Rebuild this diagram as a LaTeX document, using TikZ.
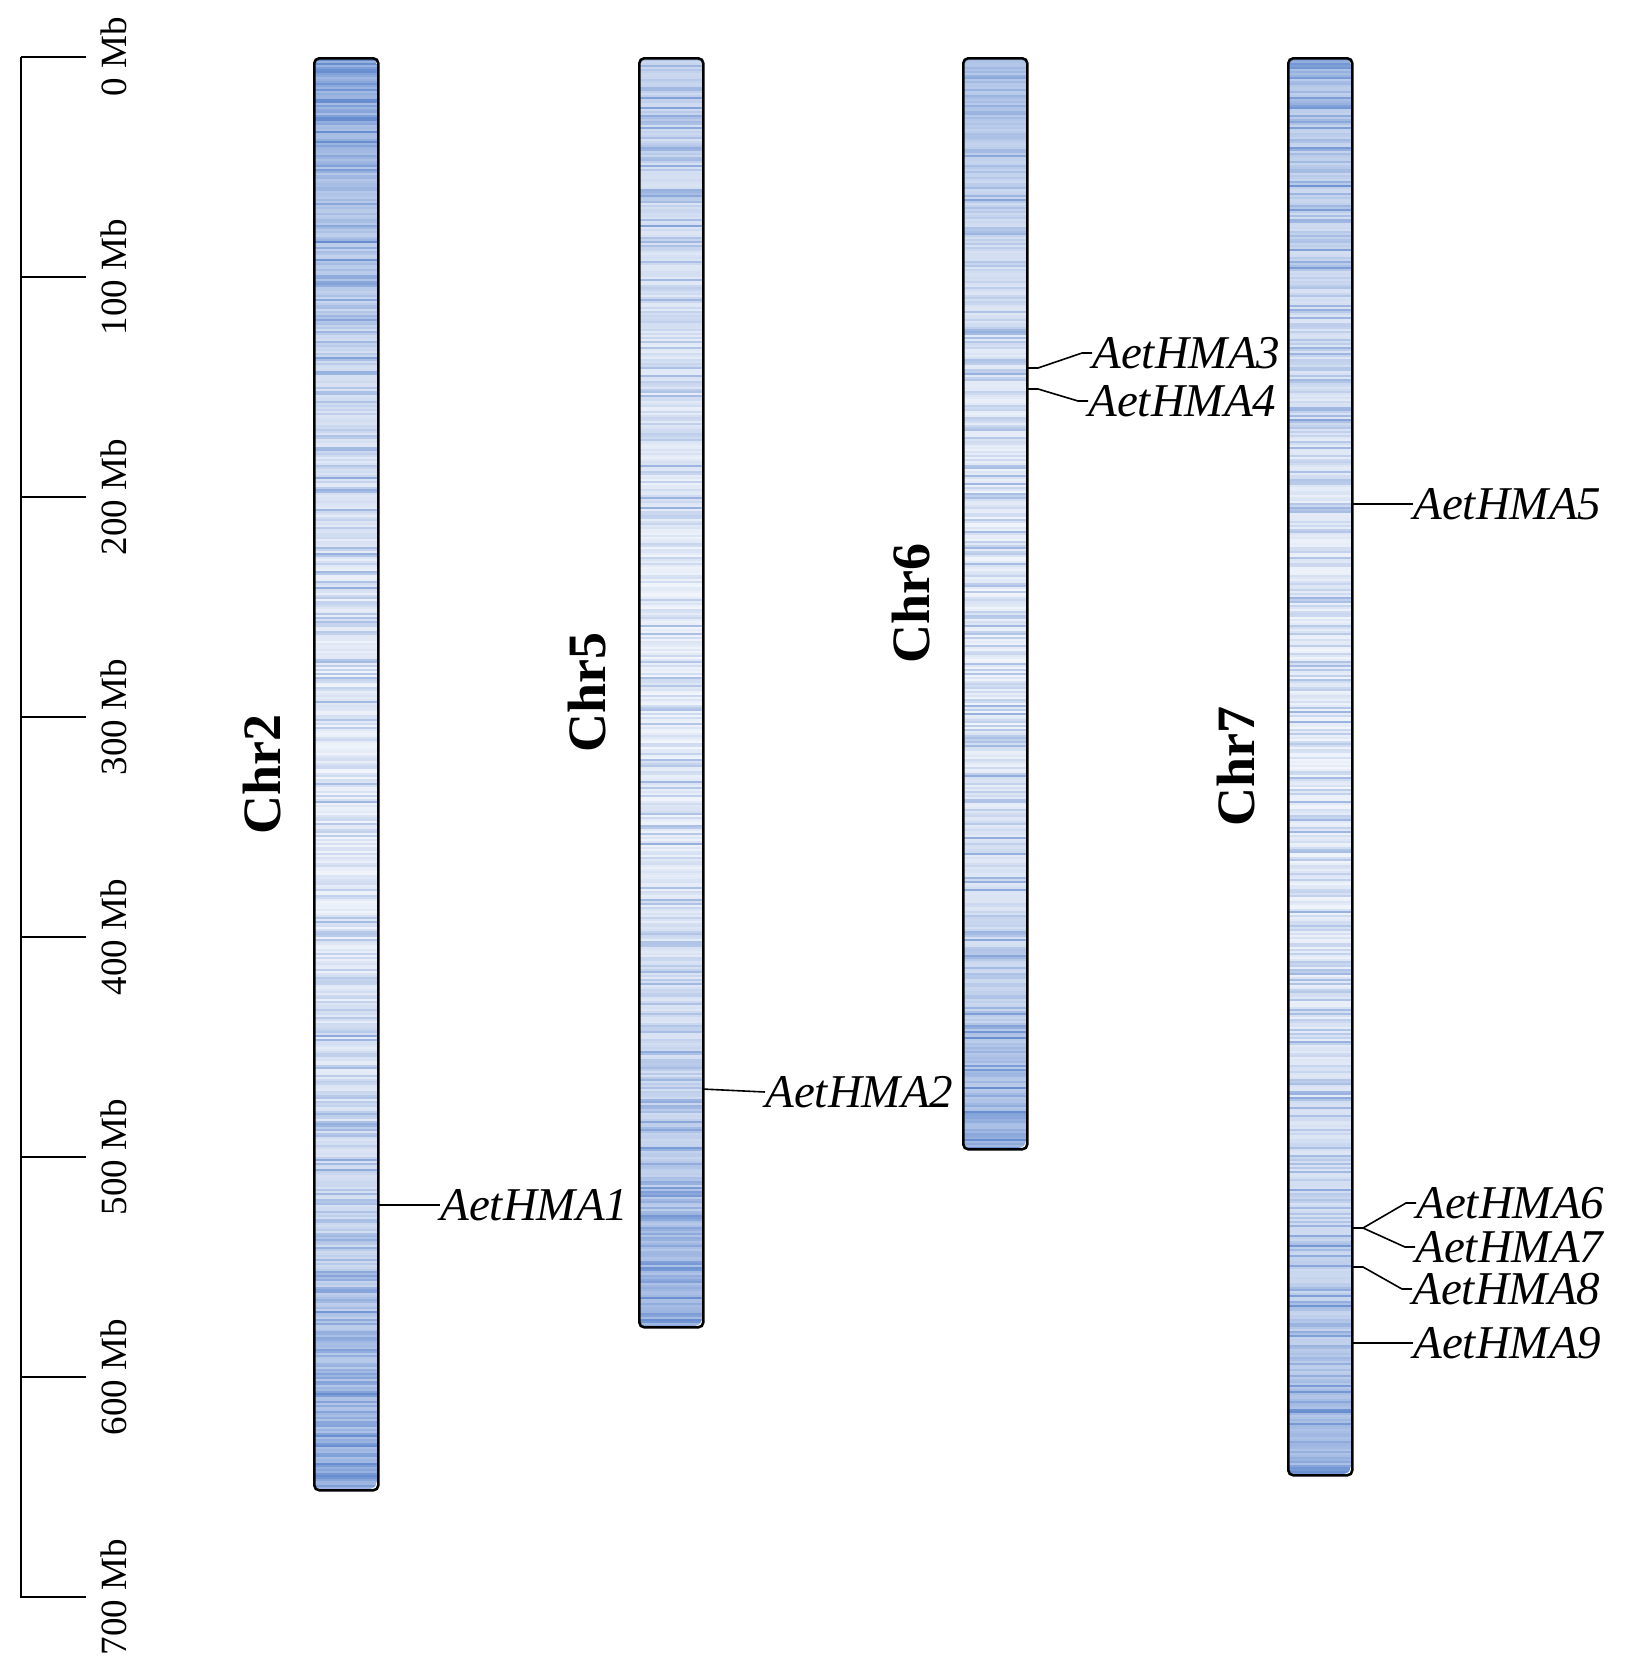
\documentclass[tikz,border=0pt]{standalone}
\usepackage{fontspec}
\setmainfont{Liberation Serif}
\usetikzlibrary{calc,positioning}
\definecolor{band}{RGB}{96,136,206}

% #1 name, #2 left x, #3 bottom y, #4 top density, #5 bottom density, #6 seed
\newcommand{\chrom}[6]{%
  \begin{scope}
    \clip[rounded corners=4] (#2,57) rectangle ++(64,#3-57);
    \fill[band!12!white] (#2,57) rectangle ++(64,#3-57);
    \pgfmathsetseed{#6}
    \foreach \y in {57,59,...,#3} {
      \pgfmathsetmacro{\tpos}{(\y-57)/(#3-57)}
      \pgfmathsetmacro{\shd}{min(95,100*(0.08+ifthenelse(\tpos<0.5,#4,#5)*(2*\tpos-1)*(2*\tpos-1)+0.6*rnd*rnd))}
      \fill[band!\shd!white] (#2,\y) rectangle ++(64,2);
    }
  \end{scope}
  \node[chr, minimum height={(#3-57)*0.5pt}, anchor=north west] (#1) at (#2,57) {};}

\begin{document}
\begin{tikzpicture}[x=0.5pt, y=-0.5pt,
  chr/.style={draw, line width=1.3pt, rounded corners=2.5pt, minimum width=32pt, inner sep=0pt},
  chrlab/.style={rotate=90, inner sep=0pt, font=\fontsize{27}{27}\selectfont\bfseries},
  mb/.style={rotate=90, inner sep=0pt, font=\fontsize{18.5}{18.5}\selectfont},
  gene/.style={anchor=west, inner sep=0pt, font=\fontsize{23.5}{23.5}\selectfont\itshape},
  axis/.style={line width=1pt},
  link/.style={line width=0.8pt}]
  \useasboundingbox (0,0) rectangle (1631,1672);

  % scale
  \draw[axis] (21,57) -- (21,1598);
  \foreach \m in {0,100,...,700} {
    \draw[axis] (21,57+2.2*\m) -- (86,57+2.2*\m);
    \node[mb] (mb\m) at (114,57+2.2*\m) {\m\ Mb};
  }

  % chromosomes
  \chrom{chr2}{313}{1489}{0.55}{0.5}{21}
  \chrom{chr5}{638}{1326}{0.25}{0.5}{52}
  \chrom{chr6}{962}{1148}{0.4}{0.45}{63}
  \chrom{chr7}{1287}{1474}{0.35}{0.45}{74}

  \node[chrlab] (lab2) at ($(chr2.west)+(-51,0)$) {Chr2};
  \node[chrlab] (lab5) at ($(chr5.west)+(-51,0)$) {Chr5};
  \node[chrlab] (lab6) at ($(chr6.west)+(-51,0)$) {Chr6};
  \node[chrlab] (lab7) at ($(chr7.west)+(-51,0)$) {Chr7};

  % genes
  \coordinate (g1) at (377,1205);
  \coordinate (g2) at (702,1089);
  \coordinate (g3) at (1026,368);
  \coordinate (g4) at (1026,389);
  \coordinate (g5) at (1351,504);
  \coordinate (g6) at (1351,1228);
  \coordinate (g8) at (1351,1267);
  \coordinate (g9) at (1351,1343);

  \node[gene] (hma1) at (440,1205) {AetHMA1};
  \node[gene] (hma2) at (765,1092) {AetHMA2};
  \node[gene] (hma3) at (1092,353) {AetHMA3};
  \node[gene] (hma4) at (1088,401) {AetHMA4};
  \node[gene] (hma5) at (1413,504) {AetHMA5};
  \node[gene] (hma6) at (1416,1203) {AetHMA6};
  \node[gene] (hma7) at (1415,1247) {AetHMA7};
  \node[gene] (hma8) at (1412,1289) {AetHMA8};
  \node[gene] (hma9) at (1413,1343) {AetHMA9};

  \draw[link] (g1) -- (hma1.west);
  \draw[link] (g2) -- (hma2.west);
  \draw[link] (g3) -- ++(12,0) -- ($(hma3.west)+(-10,0)$) -- (hma3.west);
  \draw[link] (g4) -- ++(12,0) -- ($(hma4.west)+(-10,0)$) -- (hma4.west);
  \draw[link] (g5) -- (hma5.west);
  \draw[link] (g6) -- ++(12,0) -- ($(hma6.west)+(-10,0)$) -- (hma6.west);
  \draw[link] (g6) -- ++(12,0) -- ($(hma7.west)+(-10,0)$) -- (hma7.west);
  \draw[link] (g8) -- ++(12,0) -- ($(hma8.west)+(-10,0)$) -- (hma8.west);
  \draw[link] (g9) -- (hma9.west);
\end{tikzpicture}
\end{document}
